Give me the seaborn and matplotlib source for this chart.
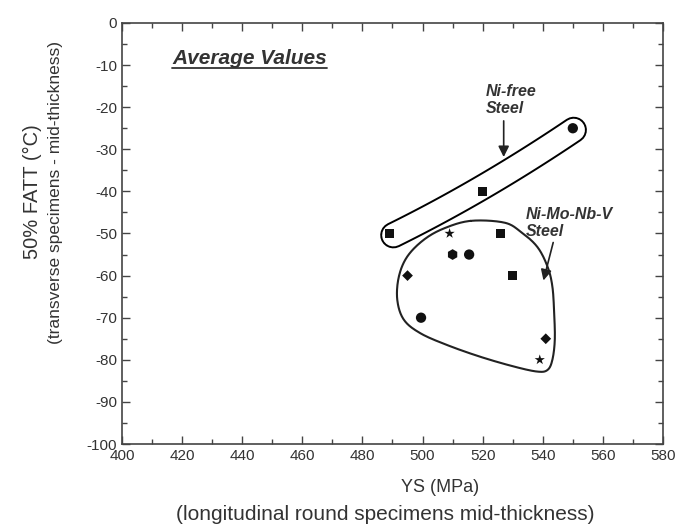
import numpy as np
import pandas as pd
import matplotlib
matplotlib.use("Agg")
import matplotlib.pyplot as plt
import seaborn as sns
from matplotlib.ticker import MultipleLocator

# ---- data ----
ys_mpa = [489, 520, 550, 509, 526, 510, 515.5, 495, 530, 499.5, 541, 539]
fatt_c = [-50, -40, -25, -50, -50, -55, -55, -60, -60, -70, -75, -80]
marker_kind = ["square", "square", "circle", "star", "square", "hexagon",
               "circle", "diamond", "square", "circle", "diamond", "star"]
steel_group = ["Ni-free", "Ni-free", "Ni-free"] + ["Ni-Mo-Nb-V"] * 9

# outline guides (hand-drawn envelopes, data coordinates)
nifree_x = [490.3, 520.7, 550.3]
nifree_y = [-50.4, -38.7, -25.4]
blob_x = [516.0, 527.1, 532.7, 538.2, 541.6, 543.2, 543.8, 544.0, 543.2, 541.6,
          538.2, 530.4, 519.3, 508.2, 499.3, 493.8, 491.6, 492.1, 494.9, 500.4, 507.1]
blob_y = [-47.0, -47.4, -49.6, -53.2, -57.9, -62.6, -69.0, -75.3, -80.0, -82.4,
          -82.8, -81.6, -79.3, -76.5, -73.7, -70.5, -65.8, -60.3, -55.5, -51.5, -48.8]

df = pd.DataFrame({"YS": ys_mpa, "FATT": fatt_c, "kind": marker_kind, "group": steel_group})

sns.set_theme(style="ticks")
plt.rcParams["font.family"] = ["Liberation Sans", "DejaVu Sans"]
plt.rcParams["axes.unicode_minus"] = False
TXT = "#333333"

W, H = 683, 532
fig = plt.figure(figsize=(W / 100, H / 100), dpi=100)
ax = fig.add_axes([0.1786, 0.1654, 0.7921, 0.7914])

# Ni-free capsule
c = np.polyfit(nifree_x, nifree_y, 2)
xx = np.linspace(nifree_x[0], nifree_x[-1], 100)
yy = np.polyval(c, xx)
ax.plot(xx, yy, color="black", lw=19, solid_capstyle="round", zorder=1)
ax.plot(xx, yy, color="white", lw=16.2, solid_capstyle="round", zorder=1.1)

# Ni-Mo-Nb-V blob (closed Catmull-Rom)
P = np.column_stack([blob_x, blob_y])
n = len(P)
pts = []
for i in range(n):
    p0, p1, p2, p3 = P[(i - 1) % n], P[i], P[(i + 1) % n], P[(i + 2) % n]
    for t in np.linspace(0, 1, 20, endpoint=False):
        t2, t3 = t * t, t * t * t
        pts.append(0.5 * ((2 * p1) + (-p0 + p2) * t + (2 * p0 - 5 * p1 + 4 * p2 - p3) * t2
                          + (-p0 + 3 * p1 - 3 * p2 + p3) * t3))
pts.append(pts[0])
pts = np.array(pts)
ax.plot(pts[:, 0], pts[:, 1], color="#222222", lw=1.5, zorder=1)

markers = {"square": ("s", 45), "circle": ("o", 55), "hexagon": ("h", 60),
           "star": ("*", 60), "diamond": ("D", 30)}
for kind, (m, s) in markers.items():
    sub = df[df["kind"] == kind]
    sns.scatterplot(data=sub, x="YS", y="FATT", marker=m, s=s, color="#111111",
                    edgecolor="none", ax=ax, legend=False, zorder=3)

ax.set_xlim(400, 580)
ax.set_ylim(-100, 0)
ax.set_xlabel("")
ax.set_ylabel("")
ax.xaxis.set_major_locator(MultipleLocator(20))
ax.xaxis.set_minor_locator(MultipleLocator(10))
ax.yaxis.set_major_locator(MultipleLocator(10))
ax.yaxis.set_minor_locator(MultipleLocator(5))
ax.tick_params(which="both", direction="in", top=True, right=True, colors="#444444",
               labelcolor=TXT, labelsize=11, width=1)
ax.tick_params(which="major", length=6)
ax.tick_params(which="minor", length=3.5)
for sp in ax.spines.values():
    sp.set_color("#444444")
    sp.set_linewidth(1.2)

# axis titles placed as in the reference
fig.text(440 / W, 1 - 487 / H, "YS (MPa)", fontsize=13, color=TXT, ha="center", va="center")
fig.text(385 / W, 1 - 514 / H, "(longitudinal round specimens mid-thickness)", fontsize=15,
         color=TXT, ha="center", va="center")
fig.text(32 / W, 1 - 192 / H, "50% FATT (°C)", fontsize=14.5, color=TXT, ha="center",
         va="center", rotation=90)
fig.text(56 / W, 1 - 192 / H, "(transverse specimens - mid-thickness)", fontsize=12.5,
         color=TXT, ha="center", va="center", rotation=90)

# "Average Values" underlined
ax.text(416.7, -9.7, "Average Values", fontsize=15, fontweight="bold", fontstyle="italic",
        color=TXT, ha="left", va="baseline")
ax.plot([416.7, 468.3], [-10.8, -10.8], color=TXT, lw=1.3)

ax.text(521, -18.3, "Ni-free\nSteel", fontsize=11.5, fontweight="bold", fontstyle="italic",
        color=TXT, ha="left", va="center", linespacing=1.1)
ax.annotate("", xy=(527, -32.5), xytext=(527, -22.6),
            arrowprops=dict(arrowstyle="-|>", color="#222222", lw=1.2, mutation_scale=16))

ax.text(534.3, -47.5, "Ni-Mo-Nb-V\nSteel", fontsize=11.5, fontweight="bold", fontstyle="italic",
        color=TXT, ha="left", va="center", linespacing=1.1)
ax.annotate("", xy=(540, -61.8), xytext=(543.7, -51.5),
            arrowprops=dict(arrowstyle="-|>", color="#222222", lw=1.2, mutation_scale=16))

fig.savefig("out.png", dpi=100)
